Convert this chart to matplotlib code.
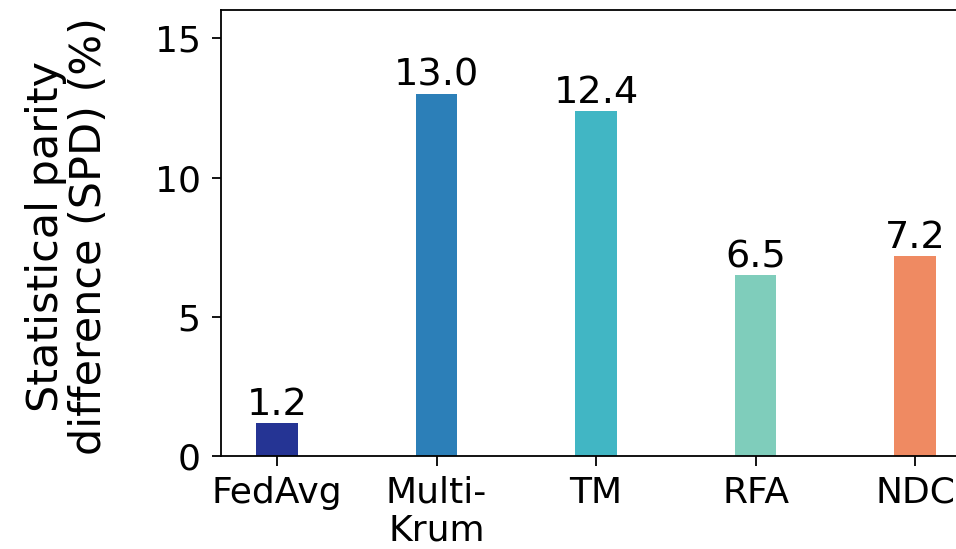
import matplotlib
matplotlib.use("Agg")
import matplotlib.pyplot as plt

methods = ["FedAvg", "Multi-\nKrum", "TM", "RFA", "NDC"]
spd_values = [1.2, 13.0, 12.4, 6.5, 7.2]
bar_colors = ["#253494", "#2c7fb8", "#41b6c4", "#7fcdbb", "#ef8a62"]
y_ticks = [0, 5, 10, 15]

plt.rcParams["font.family"] = "DejaVu Sans"

fig = plt.figure(figsize=(9.56, 5.49), dpi=100)
# axes run past the right edge of the figure, as in the reference crop
ax = fig.add_axes([220.7 / 956, 1 - 456.3 / 549, (971 - 220.7) / 956, (456.3 - 10.3) / 549])

x = list(range(len(methods)))
ax.bar(x, spd_values, width=0.26, color=bar_colors)
for xi, v in zip(x, spd_values):
    ax.text(xi, v, f"{v:.1f}", ha="center", va="bottom", fontsize=27.5)

ax.set_xticks(x)
ax.set_xticklabels(methods, linespacing=1.15, fontsize=26)
ax.set_yticks(y_ticks)
ax.set_yticklabels([str(t) for t in y_ticks], fontsize=26)
ax.set_xlim(-0.353, 4.35)
ax.set_ylim(0, 16)
ax.set_ylabel("Statistical parity\ndifference (SPD) (%)", fontsize=31, linespacing=1.05)
ax.yaxis.set_label_coords(-0.147, 0.493)
for s in ax.spines.values():
    s.set_linewidth(1.3)
ax.tick_params(axis="y", width=1.3, length=6.5, pad=8)
ax.tick_params(axis="x", width=1.3, length=7, pad=7)

fig.savefig("out.png", dpi=100)
